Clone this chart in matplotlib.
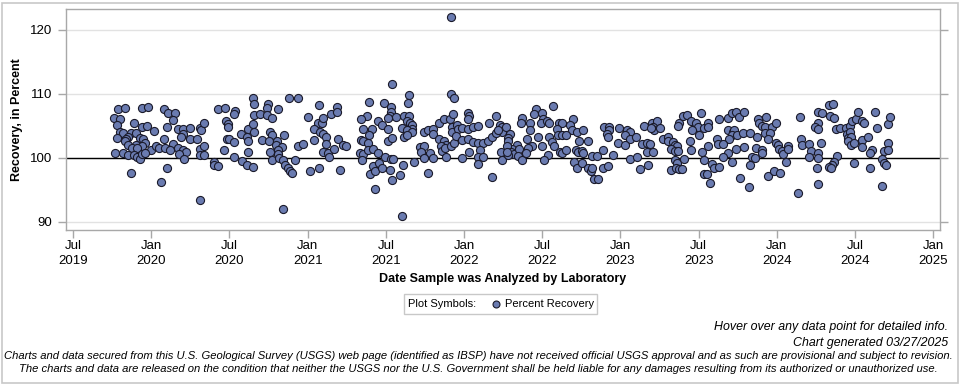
import matplotlib
matplotlib.use("Agg")
import matplotlib.pyplot as plt
from matplotlib.patches import Rectangle
from matplotlib.lines import Line2D

plt.rcParams['font.family'] = ['Liberation Sans', 'DejaVu Sans']

# Decimal-year analysis dates and percent recovery values
year_2019_2020 = [
    2019.79, 2019.83, 2019.94, 2019.98, 2020.08, 2020.11, 2020.15, 2020.14, 2019.76, 2019.80,
    2019.78, 2019.89, 2019.94, 2019.97, 2020.02, 2020.10, 2020.17, 2020.20, 2020.25, 2020.31,
    2020.32, 2020.20, 2020.19, 2020.25, 2020.29, 2020.34, 2019.80, 2019.82, 2019.87, 2019.90,
    2019.85, 2019.78, 2019.84, 2019.93, 2019.95, 2019.96, 2020.08, 2020.14, 2019.83, 2019.90,
    2019.94, 2019.85, 2019.88, 2019.91, 2020.00, 2020.03, 2020.05, 2020.09, 2020.12, 2020.17,
    2020.20, 2020.22, 2020.18, 2020.21, 2020.31, 2020.34, 2019.77, 2019.82, 2019.85, 2019.89,
    2019.91, 2019.93, 2019.94, 2019.96, 2020.31, 2020.34, 2019.87, 2020.10, 2020.06, 2020.31,
]
value_2019_2020 = [
    107.6, 107.8, 107.8, 107.9, 107.6, 107.0, 107.0, 105.9, 106.2, 106.0,
    105.2, 105.5, 104.8, 105.0, 104.2, 104.8, 104.5, 104.5, 104.6, 104.6,
    104.3, 103.8, 103.3, 102.9, 103.0, 105.4, 104.1, 103.9, 103.9, 103.9,
    103.3, 103.1, 102.9, 103.1, 102.9, 102.4, 102.9, 102.2, 102.6, 102.0,
    101.8, 102.0, 101.5, 101.5, 101.2, 101.8, 101.5, 101.5, 101.2, 101.5,
    101.3, 101.0, 100.6, 99.9, 101.4, 101.8, 100.8, 100.7, 100.5, 100.5,
    100.1, 99.8, 100.6, 100.8, 100.5, 100.5, 97.6, 98.5, 96.2, 93.4,
]

year_2020_2021 = [
    2020.653, 2020.659, 2020.749, 2020.738, 2020.813, 2020.883, 2020.936, 2020.425, 2020.472, 2020.536,
    2020.532, 2020.659, 2020.696, 2020.738, 2020.775, 2020.476, 2020.489, 2020.489, 2020.574, 2020.617,
    2020.653, 2020.659, 2020.610, 2020.617, 2020.760, 2020.770, 2020.851, 2020.711, 2020.753, 2020.802,
    2020.796, 2020.834, 2020.809, 2020.483, 2020.497, 2020.532, 2020.468, 2020.617, 2020.760, 2020.813,
    2020.532, 2020.404, 2020.404, 2020.429, 2020.583, 2020.610, 2020.653, 2020.775, 2020.817, 2020.845,
    2020.855, 2020.877, 2020.887, 2020.902, 2020.919, 2020.941, 2020.973, 2020.845,
]
value_2020_2021 = [
    109.3, 108.4, 108.4, 107.8, 107.6, 109.3, 109.3, 107.6, 107.8, 107.4,
    106.9, 106.7, 106.9, 106.7, 106.2, 105.7, 105.3, 104.8, 103.8, 104.5,
    105.3, 104.1, 103.3, 102.7, 104.0, 103.6, 103.6, 102.8, 102.6, 102.7,
    102.0, 101.7, 101.3, 102.9, 102.9, 102.5, 101.3, 101.0, 101.0, 100.6,
    100.1, 99.4, 98.9, 98.7, 99.5, 98.9, 98.6, 99.6, 99.95, 99.6,
    98.9, 98.4, 97.9, 97.6, 99.6, 101.9, 102.2, 92.0,
]

year_2021 = [
    2021.541, 2021.073, 2021.149, 2021.190, 2021.190, 2021.000, 2021.394, 2021.490, 2021.533, 2021.533,
    2021.526, 2021.563, 2021.377, 2021.341, 2021.448, 2021.477, 2021.516, 2021.618, 2021.068, 2021.094,
    2021.100, 2021.043, 2021.079, 2021.100, 2021.115, 2021.115, 2021.192, 2021.043, 2021.228, 2021.243,
    2021.356, 2021.413, 2021.392, 2021.341, 2021.356, 2021.384, 2021.516, 2021.516, 2021.541, 2021.605,
    2021.618, 2021.100, 2021.132, 2021.136, 2021.171, 2021.335, 2021.356, 2021.384, 2021.420, 2021.452,
    2021.494, 2021.533, 2021.548, 2021.345, 2021.015, 2021.073, 2021.207, 2021.399, 2021.420, 2021.430,
    2021.456, 2021.477, 2021.526, 2021.537, 2021.590, 2021.612, 2021.430, 2021.601,
]
value_2021 = [
    111.6, 108.3, 106.9, 108.0, 107.1, 106.4, 108.8, 108.5, 107.9, 107.2,
    106.6, 106.4, 106.6, 106.0, 105.8, 105.2, 106.2, 106.6, 105.5, 105.4,
    106.2, 104.5, 104.1, 103.8, 103.2, 102.2, 102.9, 102.8, 102.0, 101.8,
    104.5, 104.5, 103.6, 102.8, 102.7, 102.3, 104.5, 102.6, 103.1, 104.6,
    103.3, 101.0, 100.8, 100.2, 101.4, 100.8, 100.6, 101.2, 101.4, 100.8,
    100.1, 99.8, 99.8, 99.7, 97.9, 98.4, 98.1, 97.5, 98.75, 98.0,
    99.2, 98.5, 98.1, 96.6, 97.3, 98.9, 95.1, 90.9,
]

year_2021_2022 = [
    2021.917, 2021.649, 2021.640, 2021.917, 2021.938, 2021.649, 2021.634, 2021.655, 2021.670, 2021.666,
    2021.634, 2021.670, 2021.634, 2021.747, 2021.768, 2021.804, 2021.804, 2021.840, 2021.874, 2021.911,
    2021.932, 2021.921, 2021.921, 2021.953, 2021.960, 2021.990, 2022.028, 2022.032, 2022.024, 2022.024,
    2022.060, 2022.092, 2022.160, 2022.203, 2022.230, 2022.241, 2022.245, 2021.840, 2021.874, 2021.883,
    2021.853, 2021.857, 2021.879, 2021.917, 2021.938, 2021.947, 2021.990, 2022.028, 2022.060, 2022.088,
    2022.124, 2022.151, 2022.181, 2022.203, 2022.220, 2021.719, 2021.747, 2021.725, 2021.783, 2021.804,
    2021.747, 2021.683, 2021.883, 2021.990, 2022.032, 2022.102, 2022.088, 2022.124, 2022.237, 2022.241,
    2022.092, 2021.768, 2022.181,
]
value_2021_2022 = [
    122.0, 109.8, 108.5, 110.0, 109.3, 106.5, 105.7, 105.4, 105.2, 104.5,
    104.4, 104.1, 103.6, 104.0, 104.4, 104.5, 103.75, 105.5, 106.0, 106.0,
    106.9, 104.9, 104.0, 105.2, 104.5, 104.6, 107.0, 106.6, 106.0, 104.5,
    104.9, 105.0, 105.4, 106.6, 105.2, 104.9, 104.0, 102.9, 102.7, 102.0,
    101.8, 101.15, 101.5, 101.9, 102.3, 103.4, 102.8, 102.9, 102.55, 102.4,
    102.4, 102.7, 103.2, 103.9, 104.4, 101.7, 101.8, 101.0, 100.8, 99.95,
    99.95, 99.4, 100.2, 99.95, 101.0, 101.25, 100.1, 100.2, 101.0, 99.7,
    99.1, 97.6, 97.0,
]

year_2022 = [
    2022.571, 2022.458, 2022.450, 2022.501, 2022.507, 2022.373, 2022.364, 2022.422, 2022.492, 2022.528,
    2022.543, 2022.266, 2022.607, 2022.629, 2022.699, 2022.678, 2022.688, 2022.720, 2022.763, 2022.592,
    2022.603, 2022.629, 2022.650, 2022.422, 2022.294, 2022.279, 2022.283, 2022.337, 2022.305, 2022.273,
    2022.401, 2022.475, 2022.543, 2022.560, 2022.577, 2022.496, 2022.437, 2022.411, 2022.735, 2022.795,
    2022.300, 2022.322, 2022.352, 2022.343, 2022.373, 2022.394, 2022.283, 2022.273, 2022.614, 2022.629,
    2022.650, 2022.714, 2022.727, 2022.756, 2022.763, 2022.539, 2022.513, 2022.816, 2022.848, 2022.891,
    2022.705, 2022.720, 2022.752, 2022.790, 2022.812, 2022.820, 2022.833, 2022.859, 2022.891, 2022.897,
]
value_2022 = [
    108.1, 107.6, 106.9, 107.0, 106.0, 106.2, 105.4, 105.5, 105.5, 105.7,
    105.4, 104.8, 105.4, 105.4, 106.0, 105.2, 104.3, 104.1, 104.4, 104.5,
    103.6, 103.6, 103.6, 104.3, 103.75, 103.1, 102.6, 102.0, 101.35, 101.8,
    102.9, 103.2, 103.2, 102.55, 101.8, 101.9, 101.9, 101.5, 102.7, 102.7,
    101.0, 100.6, 101.35, 100.3, 99.7, 100.7, 100.5, 101.0, 101.0, 100.8,
    101.25, 101.25, 101.0, 101.15, 100.7, 100.5, 99.7, 100.3, 100.3, 101.25,
    99.4, 98.5, 99.2, 98.5, 97.9, 98.5, 96.7, 96.7, 98.5, 104.8,
]

year_2023a = [
    2022.928, 2022.928, 2022.913, 2022.919, 2022.992, 2023.041, 2023.062, 2023.026, 2023.062, 2023.098,
    2022.987, 2023.026, 2023.153, 2023.200, 2023.232, 2023.211, 2023.217, 2023.196, 2023.254, 2023.136,
    2023.168, 2023.190, 2023.168, 2023.211, 2023.275, 2023.307, 2023.307, 2023.339, 2023.350, 2023.360,
    2023.324, 2023.350, 2023.367, 2023.375, 2023.403, 2023.424, 2023.367, 2023.452, 2023.482, 2023.494,
    2023.456, 2023.516, 2023.531, 2023.499, 2023.445, 2023.452, 2023.520, 2022.955, 2022.919, 2023.062,
    2023.104, 2023.126, 2023.179, 2023.324, 2023.350, 2023.360, 2023.354, 2023.375, 2023.392, 2023.409,
    2023.537, 2023.537,
]
value_2023a = [
    104.9, 104.4, 103.75, 103.2, 104.6, 104.3, 104.0, 103.6, 102.9, 103.2,
    102.3, 102.0, 105.0, 105.5, 105.7, 104.9, 104.3, 104.6, 104.6, 102.2,
    102.3, 102.2, 101.0, 101.0, 102.9, 103.3, 102.7, 102.55, 102.0, 101.8,
    101.35, 101.15, 101.15, 105.5, 106.6, 106.7, 105.0, 105.8, 105.4, 104.9,
    104.4, 107.0, 104.6, 103.6, 102.7, 101.25, 101.0, 100.5, 98.75, 99.8,
    100.1, 98.2, 98.9, 98.1, 99.7, 99.2, 98.5, 98.2, 98.2, 99.8,
    99.7, 97.5,
]

year_2023b = [
    2023.562, 2023.562, 2023.631, 2023.686, 2023.711, 2023.737, 2023.758, 2023.792, 2023.878, 2023.886,
    2023.929, 2023.908, 2023.925, 2023.967, 2023.993, 2023.690, 2023.722, 2023.729, 2023.716, 2023.743,
    2023.786, 2023.829, 2023.871, 2023.925, 2023.957, 2023.946, 2023.694, 2023.616, 2023.626, 2023.658,
    2023.562, 2023.792, 2023.737, 2023.690, 2023.658, 2023.865, 2023.908, 2023.903, 2023.993, 2024.006,
    2024.014, 2024.031, 2024.042, 2024.074, 2024.069, 2023.711, 2023.839, 2023.861, 2023.829, 2024.057,
    2023.584, 2023.601, 2023.631, 2023.552, 2023.573, 2023.765, 2023.822, 2023.946, 2023.984, 2024.020,
    2024.148, 2024.155, 2024.159, 2024.138,
]
value_2023b = [
    105.5, 104.8, 106.0, 106.2, 107.0, 107.2, 106.4, 107.1, 106.0, 105.5,
    106.4, 105.0, 104.8, 104.8, 105.5, 104.4, 104.1, 104.4, 103.6, 103.6,
    103.9, 103.9, 103.2, 103.9, 103.9, 102.9, 102.9, 102.9, 102.2, 102.2,
    101.9, 101.7, 101.35, 100.8, 100.1, 101.5, 101.25, 100.8, 102.4, 102.0,
    101.35, 101.15, 100.6, 101.8, 101.35, 99.4, 100.1, 99.95, 98.9, 99.3,
    99.06, 98.4, 98.65, 97.5, 96.1, 96.9, 95.4, 97.2, 97.9, 97.7,
    106.4, 102.9, 102.0, 94.6,
]

year_2024 = [
    2024.333, 2024.361, 2024.261, 2024.287, 2024.340, 2024.368, 2024.261, 2024.244, 2024.265, 2024.376,
    2024.404, 2024.440, 2024.468, 2024.478, 2024.504, 2024.521, 2024.542, 2024.559, 2024.628, 2024.638,
    2024.708, 2024.723, 2024.446, 2024.468, 2024.453, 2024.474, 2024.457, 2024.474, 2024.495, 2024.547,
    2024.581, 2024.547, 2024.206, 2024.218, 2024.282, 2024.265, 2024.708, 2024.687, 2024.708, 2024.606,
    2024.596, 2024.206, 2024.265, 2024.382, 2024.368, 2024.355, 2024.333, 2024.346, 2024.495, 2024.674,
    2024.687, 2024.696, 2024.596, 2024.255, 2024.265, 2024.674,
]
value_2024 = [
    108.3, 108.4, 107.2, 107.0, 106.5, 106.2, 105.5, 104.9, 104.5, 104.5,
    104.6, 104.6, 105.0, 105.7, 106.0, 107.1, 105.8, 105.5, 107.2, 104.6,
    105.3, 106.4, 103.75, 104.0, 103.1, 103.2, 102.7, 102.0, 102.4, 102.8,
    103.2, 101.7, 102.2, 101.15, 102.4, 100.8, 102.4, 101.15, 101.25, 101.25,
    100.7, 100.1, 99.95, 100.3, 99.4, 98.9, 98.65, 98.5, 99.2, 99.8,
    99.2, 98.9, 98.5, 98.4, 95.9, 95.6,
]

years = (year_2019_2020 + year_2020_2021 + year_2021 + year_2021_2022 + year_2022
         + year_2023a + year_2023b + year_2024)
values = (value_2019_2020 + value_2020_2021 + value_2021 + value_2021_2022 + value_2022
          + value_2023a + value_2023b + value_2024)

xtick_pos = [2019.5, 2020.0, 2020.5, 2021.0, 2021.5, 2022.0, 2022.5, 2023.0, 2023.5, 2024.0, 2024.5, 2025.0]
xtick_labels = ["Jul\n2019", "Jan\n2020", "Jul\n2020", "Jan\n2021", "Jul\n2021", "Jan\n2022",
                "Jul\n2022", "Jan\n2023", "Jul\n2023", "Jan\n2024", "Jul\n2024", "Jan\n2025"]
ytick_pos = [90, 100, 110, 120]

W, H = 960, 384
fig = plt.figure(figsize=(W / 100, H / 100), dpi=100)
fig.patch.set_facecolor('white')
fig.add_artist(Rectangle((1.5 / W, 1.5 / H), (W - 4) / W, (H - 4) / H, transform=fig.transFigure,
                         fill=False, edgecolor='#c8c8c8', linewidth=1.2))

ax = fig.add_axes([66 / W, 1 - 230 / H, (940 - 66) / W, (230 - 9) / H])
ax.set_xlim(2019.455, 2025.043)
ax.set_ylim(88.75, 123.25)

for y in ytick_pos:
    ax.axhline(y, color='#e2e2e2', linewidth=1.0, zorder=0)
ax.axhline(100, color='black', linewidth=1.0, zorder=1)

ax.scatter(years, values, s=34, facecolor='#6a7bb0', edgecolor='#1a1a2a', linewidth=0.8, zorder=3)

for s in ax.spines.values():
    s.set_color('#a8a8a8')
    s.set_linewidth(1.0)

ax.set_xticks(xtick_pos)
ax.set_xticklabels(xtick_labels, fontsize=9.5, linespacing=1.4)
ax.set_yticks(ytick_pos)
ax.set_yticklabels([str(v) for v in ytick_pos], fontsize=9.5)
ax.tick_params(axis='both', colors='#a8a8a8', labelcolor='black', length=6, width=1.0)
ax.tick_params(axis='y', right=True, pad=4)
ax.tick_params(axis='x', pad=1)

fig.text(17 / W, 1 - 119.5 / H, "Recovery, in Percent", rotation=90, ha='center', va='center',
         fontsize=9, fontweight='bold')
fig.text(503 / W, 1 - 279 / H, "Date Sample was Analyzed by Laboratory", ha='center', va='center',
         fontsize=9, fontweight='bold')

# legend box
fig.add_artist(Rectangle((404 / W, 1 - 314 / H), (597 - 404) / W, 20 / H, transform=fig.transFigure,
                         fill=True, facecolor='white', edgecolor='#c8c8c8', linewidth=1.0))
fig.text(408 / W, 1 - 304 / H, "Plot Symbols:", ha='left', va='center', fontsize=8)
fig.add_artist(Line2D([495.5 / W], [1 - 304 / H], transform=fig.transFigure, marker='o', markersize=5,
                      markerfacecolor='#6a7bb0', markeredgecolor='#1a1a2a', markeredgewidth=0.8,
                      linestyle='none'))
fig.text(505 / W, 1 - 304 / H, "Percent Recovery", ha='left', va='center', fontsize=8)

fig.text(948 / W, 1 - 327 / H, "Hover over any data point for detailed info.", ha='right', va='center',
         fontsize=8.9, style='italic')
fig.text(948 / W, 1 - 343 / H, "Chart generated 03/27/2025", ha='right', va='center',
         fontsize=8.9, style='italic')
fig.text(478 / W, 1 - 356 / H,
         "Charts and data secured from this U.S. Geological Survey (USGS) web page (identified as IBSP) have not "
         "received official USGS approval and as such are provisional and subject to revision.",
         ha='center', va='center', fontsize=8.1, style='italic')
fig.text(478 / W, 1 - 369 / H,
         "The charts and data are released on the condition that neither the USGS nor the U.S. Government shall "
         "be held liable for any damages resulting from its authorized or unauthorized use.",
         ha='center', va='center', fontsize=8.1, style='italic')

fig.savefig("out.png", dpi=100)
